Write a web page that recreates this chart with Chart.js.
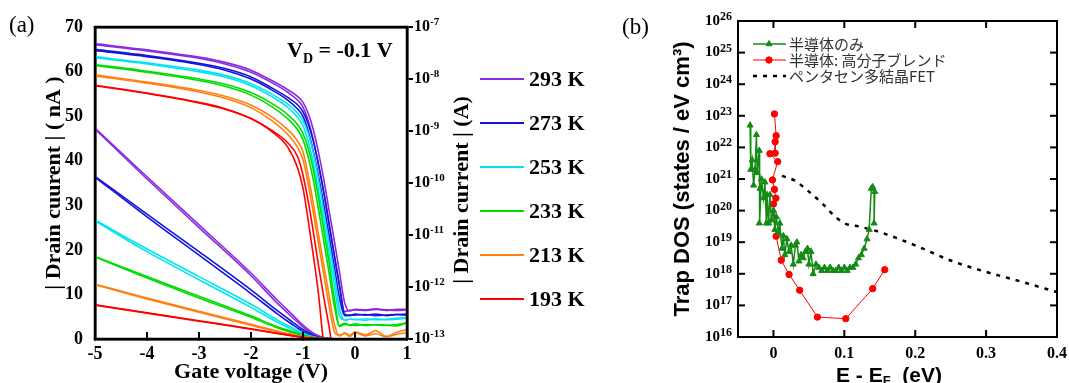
<!DOCTYPE html>
<html>
<head>
<meta charset="utf-8">
<script src="https://cdn.jsdelivr.net/npm/chart.js@4.4.0/dist/chart.umd.min.js"></script>
<style>
  body { margin: 0; background: #fff; }
  #wrap { position: relative; width: 1069px; height: 383px; overflow: hidden; }
  canvas { position: absolute; top: 0; }
  #chartA { left: 0; }
  #chartB { left: 600px; }
  #overA { left: 0; pointer-events: none; z-index: 5; }
  .mark { position: absolute; box-sizing: border-box; pointer-events: none; z-index: 6; }
</style>
</head>
<body>
<div id="wrap">
  <canvas id="chartA" width="600" height="383"></canvas>
  <canvas id="chartB" width="469" height="383"></canvas>
  <canvas id="overA" width="600" height="383"></canvas>
</div>
<script>
// ---------- panel (a): transfer curves, two sweeps per temperature ----------
const temps = ['293 K', '273 K', '253 K', '233 K', '213 K', '193 K'];
const tempColors = ['#8a2be2', '#1414dc', '#00e4f0', '#00dc00', '#ff8010', '#ff0000'];

// gate voltage grid for the linear (nA) curves
const vgLin = [-5, -4, -3, -2, -1.5, -1.2, -1.0, -0.8, -0.6, -0.4, -0.2, 0, 1];
const lin293  = [47.3, 36.4, 25.6, 14.8, 8.8, 5.4, 3.1, 1.3, 0.3, 0.05, 0, 0, 0];
const lin293r = [47.1, 35.9, 25.0, 14.2, 8.1, 4.8, 2.7, 1.0, 0.2, 0.03, 0, 0, 0];
const lin273  = [36.5, 28.0, 19.6, 11.0, 6.4, 3.8, 2.1, 0.8, 0.15, 0.02, 0, 0, 0];
const lin273r = [36.3, 27.4, 18.8, 10.2, 5.7, 3.2, 1.7, 0.6, 0.1, 0.01, 0, 0, 0];
const lin253  = [26.7, 20.2, 14.0, 7.8, 4.3, 2.5, 1.3, 0.5, 0.1, 0.01, 0, 0, 0];
const lin253r = [26.5, 19.6, 13.3, 7.1, 3.8, 2.1, 1.1, 0.4, 0.08, 0, 0, 0, 0];
const lin233  = [18.5, 14.0, 9.6, 5.2, 2.8, 1.6, 0.9, 0.35, 0.06, 0, 0, 0, 0];
const lin233r = [18.4, 13.7, 9.2, 4.9, 2.5, 1.4, 0.75, 0.3, 0.05, 0, 0, 0, 0];
const lin213  = [12.3, 9.2, 6.2, 3.3, 1.8, 1.0, 0.55, 0.2, 0.03, 0, 0, 0, 0];
const lin213r = [12.2, 9.0, 6.0, 3.1, 1.65, 0.9, 0.5, 0.18, 0.02, 0, 0, 0, 0];
const lin193  = [7.7, 5.9, 4.1, 2.3, 1.3, 0.75, 0.4, 0.15, 0.02, 0, 0, 0, 0];
const lin193r = [7.6, 5.8, 4.0, 2.2, 1.25, 0.7, 0.37, 0.13, 0.02, 0, 0, 0, 0];

// gate voltage grid for the log curves, values are log10(|Id| / A)
const vgLog = [-5, -4, -3, -2.5, -2, -1.6, -1.3, -1.1, -1.0, -0.9, -0.8, -0.7, -0.6, -0.5, -0.4, -0.3, -0.2, -0.1, 0, 0.2, 0.4, 0.6, 0.8, 1];
const log293  = [-7.32, -7.44, -7.58, -7.68, -7.83, -8.03, -8.20, -8.34, -8.45, -8.66, -8.98, -9.42, -9.93, -10.52, -11.10, -11.70, -12.30, -12.46, -12.43, -12.44, -12.42, -12.45, -12.43, -12.43];
const log293r = [-7.34, -7.46, -7.60, -7.71, -7.87, -8.07, -8.25, -8.41, -8.54, -8.80, -9.18, -9.66, -10.18, -10.78, -11.38, -11.96, -12.47, -12.45, -12.44, -12.45, -12.43, -12.44, -12.45, -12.44];
const log273  = [-7.43, -7.55, -7.70, -7.80, -7.96, -8.17, -8.35, -8.50, -8.63, -8.86, -9.20, -9.65, -10.18, -10.77, -11.37, -11.97, -12.52, -12.55, -12.52, -12.54, -12.52, -12.55, -12.53, -12.52];
const log273r = [-7.45, -7.57, -7.72, -7.83, -8.00, -8.21, -8.40, -8.58, -8.72, -9.00, -9.40, -9.88, -10.42, -11.00, -11.60, -12.20, -12.55, -12.54, -12.54, -12.53, -12.55, -12.54, -12.53, -12.54];
const log253  = [-7.57, -7.69, -7.83, -7.93, -8.09, -8.29, -8.48, -8.66, -8.80, -9.05, -9.42, -9.95, -10.55, -11.15, -11.75, -12.40, -12.64, -12.62, -12.63, -12.61, -12.63, -12.62, -12.60, -12.59];
const log253r = [-7.59, -7.71, -7.86, -7.96, -8.13, -8.34, -8.54, -8.74, -8.90, -9.20, -9.62, -10.15, -10.75, -11.35, -11.95, -12.55, -12.63, -12.62, -12.62, -12.64, -12.61, -12.63, -12.62, -12.60];
const log233  = [-7.72, -7.85, -8.00, -8.10, -8.26, -8.47, -8.68, -8.88, -9.05, -9.33, -9.75, -10.30, -10.90, -11.52, -12.20, -12.74, -12.70, -12.73, -12.71, -12.74, -12.72, -12.73, -12.75, -12.68];
const log233r = [-7.74, -7.87, -8.03, -8.14, -8.31, -8.53, -8.76, -8.98, -9.17, -9.50, -9.95, -10.52, -11.12, -11.72, -12.35, -12.76, -12.72, -12.73, -12.74, -12.72, -12.73, -12.74, -12.72, -12.70];
const log213  = [-7.92, -8.06, -8.22, -8.33, -8.50, -8.73, -8.97, -9.20, -9.40, -9.85, -10.40, -11.00, -11.58, -12.15, -12.70, -12.94, -12.88, -12.93, -12.86, -12.92, -12.84, -12.95, -12.87, -12.82];
const log213r = [-7.94, -8.08, -8.25, -8.37, -8.55, -8.80, -9.06, -9.32, -9.55, -10.02, -10.58, -11.18, -11.76, -12.35, -12.85, -12.93, -12.90, -12.95, -12.88, -12.94, -12.90, -12.96, -12.91, -12.88];
const log193  = [-8.12, -8.27, -8.45, -8.57, -8.76, -9.01, -9.30, -9.72, -10.10, -10.72, -11.40, -12.15, -13.10, -13.40, -13.40, -13.40, -13.40, -13.40, -13.40, -13.40, -13.40, -13.40, -13.40, -13.40];
const log193r = [-8.13, -8.28, -8.46, -8.58, -8.76, -8.99, -9.22, -9.50, -9.85, -10.35, -10.95, -11.60, -12.20, -12.75, -13.35, -13.40, -13.40, -13.40, -13.40, -13.40, -13.40, -13.40, -13.40, -13.40];

const rightExps = [-13, -12, -11, -10, -9, -8, -7];

// ---------- panel (b): trap DOS ----------
const legendB = ['半導体のみ', '半導体: 高分子ブレンド', 'ペンタセン多結晶FET'];
const greenE = [-0.033, -0.032, -0.030, -0.028, -0.026, -0.024, -0.023, -0.020, -0.019, -0.020, -0.017, -0.014, -0.012, -0.010, -0.009, -0.007, -0.005, -0.003, 0.000, 0.002, 0.004, 0.007, 0.009, 0.012, 0.014, 0.016, 0.019, 0.022, 0.025, 0.028, 0.031, 0.033, 0.036, 0.039, 0.042, 0.045, 0.048, 0.050, 0.053, 0.056, 0.060, 0.064, 0.068, 0.072, 0.076, 0.080, 0.084, 0.088, 0.092, 0.096, 0.100, 0.104, 0.108, 0.112, 0.116, 0.120, 0.124, 0.128, 0.132, 0.135, 0.138, 0.140, 0.143, 0.142];
const greenLog = [22.7, 21.3, 21.6, 20.8, 21.3, 22.4, 21.2, 21.9, 20.7, 19.6, 21.0, 20.4, 20.9, 19.6, 20.5, 19.6, 20.5, 19.7, 20.0, 19.4, 19.8, 19.3, 19.6, 18.8, 19.2, 18.6, 19.1, 18.7, 18.9, 18.3, 18.9, 19.0, 18.4, 18.6, 18.5, 18.7, 18.8, 18.3, 18.7, 18.0, 18.3, 18.2, 18.1, 18.2, 18.1, 18.2, 18.1, 18.1, 18.2, 18.1, 18.2, 18.1, 18.2, 18.2, 18.3, 18.5, 18.6, 18.8, 19.1, 19.4, 20.7, 20.75, 20.6, 19.6];
const redE = [0.0014, 0.0038, 0.0024, 0.0024, -0.005, 0.006, -0.0014, 0.0014, 0.0034, 0, 0.0038, 0.011, 0.022, 0.037, 0.062, 0.102, 0.14, 0.157];
const redLog = [23.06, 22.37, 22.18, 21.82, 21.8, 21.55, 20.97, 20.67, 20.39, 20.21, 19.19, 18.43, 17.98, 17.48, 16.63, 16.58, 17.53, 18.13];
const blackE = [0.012, 0.03, 0.05, 0.07, 0.085, 0.1, 0.12, 0.15, 0.2, 0.25, 0.3, 0.35, 0.4];
const blackLog = [21.1, 20.95, 20.6, 20.2, 19.85, 19.6, 19.5, 19.32, 18.9, 18.42, 18.06, 17.75, 17.42];
const dosExps = [16, 17, 18, 19, 20, 21, 22, 23, 24, 25, 26];
const xTicksB = [0, 0.1, 0.2, 0.3, 0.4];

const SERIF = '"Liberation Serif", "Times New Roman", serif';
const SANS = '"Liberation Sans", Arial, sans-serif';
const CJK = '"Noto Sans CJK JP", "Noto Sans", sans-serif';

// solid strokes drawn as filled rectangles
function hLine(ctx, x1, x2, y, w) { ctx.fillRect(Math.min(x1, x2), y - w / 2, Math.abs(x2 - x1), w); }
function vLine(ctx, x, y1, y2, w) { ctx.fillRect(x - w / 2, Math.min(y1, y2), w, Math.abs(y2 - y1)); }
function drawFrame(ctx, a, w) {
  ctx.fillStyle = '#000';
  hLine(ctx, a.left - w / 2, a.right + w / 2, a.top, w);
  hLine(ctx, a.left - w / 2, a.right + w / 2, a.bottom, w);
  vLine(ctx, a.left, a.top, a.bottom, w);
  vLine(ctx, a.right, a.top, a.bottom, w);
}
const axisBorder = {display: true, color: '#000', width: 2.5};

// ---------- chart (a) ----------
const linCurves = [[lin293, lin293r], [lin273, lin273r], [lin253, lin253r], [lin233, lin233r], [lin213, lin213r], [lin193, lin193r]];
const logCurves = [[log293, log293r], [log273, log273r], [log253, log253r], [log233, log233r], [log213, log213r], [log193, log193r]];

let dsA = [];
for (let i = temps.length - 1; i >= 0; i--) {
  linCurves[i].forEach(arr => dsA.push({
    data: vgLin.map((v, k) => ({x: v, y: arr[k]})),
    yAxisID: 'y',
    borderColor: tempColors[i],
    borderWidth: 1.6,
    pointRadius: 0,
    cubicInterpolationMode: 'monotone'
  }));
  logCurves[i].forEach(arr => dsA.push({
    data: vgLog.map((v, k) => ({x: v, y: Math.pow(10, arr[k])})),
    yAxisID: 'y2',
    borderColor: tempColors[i],
    borderWidth: 1.6,
    pointRadius: 0,
    cubicInterpolationMode: 'monotone'
  }));
}

const annotA = {
  id: 'annotA',
  afterDraw(chart) {
    const ctx = chart.ctx;
    const y2 = chart.scales.y2;
    const right = y2.left;
    ctx.save();
    ctx.fillStyle = '#000';

    // right axis labels 10^n
    ctx.textAlign = 'left';
    ctx.textBaseline = 'middle';
    rightExps.forEach(e => {
      const py = y2.getPixelForValue(Math.pow(10, e));
      ctx.font = 'bold 16px ' + SERIF;
      ctx.fillText('10', right + 7, py);
      const w = ctx.measureText('10').width;
      ctx.font = 'bold 11px ' + SERIF;
      ctx.fillText(String(e), right + 7 + w, py - 5);
    });

    // right axis title
    ctx.save();
    ctx.translate(462, 190);
    ctx.rotate(-Math.PI / 2);
    ctx.textAlign = 'center';
    ctx.font = 'bold 22px ' + SERIF;
    ctx.fillText('| Drain current | (A)', 0, 0);
    ctx.restore();

    // temperature legend
    temps.forEach((t, i) => {
      const ly = 79 + i * 44;
      ctx.fillStyle = tempColors[i];
      hLine(ctx, 480, 524, ly, 2);
      ctx.fillStyle = '#000';
      ctx.font = 'bold 22px ' + SERIF;
      ctx.fillText(t, 529, ly + 1);
    });

    // V_D label
    ctx.textBaseline = 'alphabetic';
    ctx.font = 'bold 22px ' + SERIF;
    let vx = 287;
    ctx.fillText('V', vx, 57);
    vx += ctx.measureText('V').width;
    ctx.font = 'bold 14px ' + SERIF;
    ctx.fillText('D', vx, 63);
    vx += ctx.measureText('D').width;
    ctx.font = 'bold 22px ' + SERIF;
    ctx.fillText(' = -0.1 V', vx, 57);

    ctx.font = '23px ' + SERIF;
    ctx.fillText('(a)', 9, 32);
    ctx.restore();
  }
};

const chartA = new Chart(document.getElementById('chartA'), {
  type: 'line',
  data: {datasets: dsA},
  options: {
    responsive: false,
    animation: false,
    devicePixelRatio: 1,
    layout: {padding: 0},
    plugins: {legend: {display: false}, tooltip: {enabled: false}},
    scales: {
      x: {
        type: 'linear', position: 'bottom', min: -5, max: 1,
        ticks: {stepSize: 1, padding: 11, color: '#000', font: {family: SERIF, weight: 'bold', size: 18}},
        // negative tick length puts the tick marks inside the plot
        grid: {display: true, drawOnChartArea: false, drawTicks: true, tickLength: -6, color: '#000', lineWidth: 2},
        border: axisBorder,
        title: {display: true, text: 'Gate voltage (V)', color: '#000', padding: {top: 0, bottom: 0},
                font: {family: SERIF, weight: 'bold', size: 22, lineHeight: 1}},
        afterFit: s => { s.height = 44; }
      },
      xTop: {
        type: 'linear', position: 'top', min: -5, max: 1,
        ticks: {display: false},
        grid: {display: false, drawTicks: false},
        border: axisBorder,
        afterFit: s => { s.height = 27; }
      },
      y: {
        type: 'linear', position: 'left', min: 0, max: 70,
        ticks: {stepSize: 10, padding: 12, color: '#000', font: {family: SERIF, weight: 'bold', size: 18}},
        grid: {display: false, drawTicks: false},
        border: axisBorder,
        title: {display: true, text: '| Drain cuurent | ( nA )', color: '#000', padding: {top: 43, bottom: 0},
                font: {family: SERIF, weight: 'bold', size: 22, lineHeight: 1}},
        afterFit: s => { s.width = 95; }
      },
      y2: {
        type: 'logarithmic', position: 'right', min: 1e-13, max: 1e-7,
        ticks: {display: false},
        grid: {display: true, drawOnChartArea: false, drawTicks: true, tickLength: 6, color: '#000', lineWidth: 2},
        border: axisBorder,
        afterBuildTicks: s => { s.ticks = rightExps.map(e => ({value: Math.pow(10, e)})); },
        afterFit: s => { s.width = 193; }
      }
    }
  },
  plugins: [annotA]
});

// plot frame and inner ticks of (a), placed from chart A's own area and x scale
function addMark(left, top, width, height, css) {
  const d = document.createElement('div');
  d.className = 'mark';
  d.style.left = left + 'px';
  d.style.top = top + 'px';
  d.style.width = width + 'px';
  d.style.height = height + 'px';
  Object.assign(d.style, css);
  document.getElementById('wrap').appendChild(d);
}
function drawFrameA() {
  const a = chartA.chartArea;
  const x = chartA.scales.x;
  const ctx = document.getElementById('overA').getContext('2d');
  drawFrame(ctx, a, 2.5);
  addMark(a.left - 1.25, a.top - 1.25, a.right - a.left + 2.5, a.bottom - a.top + 2.5, {border: '2.5px solid #000'});
  x.ticks.forEach(t => {
    const px = x.getPixelForValue(t.value);
    if (px > a.left + 2 && px < a.right - 2) {
      vLine(ctx, px, a.bottom - 6, a.bottom, 2);
      addMark(px - 1, a.bottom - 7, 2, 7, {background: '#000'});
    }
  });
}

// ---------- chart (b) ----------
const annotB = {
  id: 'annotB',
  afterDraw(chart) {
    const {ctx, chartArea: a, scales} = chart;
    ctx.save();
    ctx.setLineDash([]);
    drawFrame(ctx, a, 2);

    // inward ticks on all four sides
    xTicksB.forEach(v => {
      const px = scales.x.getPixelForValue(v);
      vLine(ctx, px, a.bottom - 7, a.bottom, 2);
      vLine(ctx, px, a.top, a.top + 7, 2);
    });
    dosExps.forEach(e => {
      const py = scales.y.getPixelForValue(Math.pow(10, e));
      hLine(ctx, a.left, a.left + 7, py, 2);
      hLine(ctx, a.right - 7, a.right, py, 2);
    });

    // y labels 10^n
    ctx.textBaseline = 'middle';
    dosExps.forEach(e => {
      const py = scales.y.getPixelForValue(Math.pow(10, e));
      ctx.font = 'bold 12px ' + SERIF;
      const we = ctx.measureText(String(e)).width;
      ctx.textAlign = 'left';
      ctx.fillText(String(e), a.left - 6 - we, py - 4);
      ctx.font = 'bold 15px ' + SERIF;
      ctx.textAlign = 'right';
      ctx.fillText('10', a.left - 6 - we, py);
    });

    // x title with subscript
    ctx.textAlign = 'left';
    ctx.textBaseline = 'alphabetic';
    let tx = 236;
    ctx.font = 'bold 21px ' + SANS;
    ctx.fillText('E - E', tx, 382);
    tx += ctx.measureText('E - E').width;
    ctx.font = 'bold 13px ' + SANS;
    ctx.fillText('F', tx, 385);
    tx += ctx.measureText('F').width;
    ctx.font = 'bold 21px ' + SANS;
    ctx.fillText('  (eV)', tx, 382);

    // legend
    const ds = chart.data.datasets;
    ctx.textBaseline = 'middle';
    ds.forEach((d, i) => {
      const ly = 44 + i * 16;
      ctx.strokeStyle = d.borderColor;
      ctx.lineWidth = d.borderWidth;
      ctx.setLineDash(d.borderDash || []);
      ctx.beginPath();
      ctx.moveTo(153, ly);
      ctx.lineTo(186, ly);
      ctx.stroke();
      ctx.setLineDash([]);
      if (d.pointRadius > 0) {
        ctx.fillStyle = d.backgroundColor;
        ctx.lineWidth = 1;
        Chart.helpers.drawPoint(ctx, {pointStyle: d.pointStyle, radius: d.pointRadius, rotation: 0, borderWidth: 1}, 169, ly);
      }
      ctx.fillStyle = '#333';
      ctx.font = '15px ' + CJK;
      ctx.fillText(d.label, 189, ly);
    });

    ctx.fillStyle = '#000';
    ctx.font = '23px ' + SERIF;
    ctx.fillText('(b)', 22, 28);
    ctx.restore();
  }
};

new Chart(document.getElementById('chartB'), {
  type: 'line',
  data: {
    datasets: [
      {
        label: legendB[0],
        data: greenE.map((e, k) => ({x: e, y: Math.pow(10, greenLog[k])})),
        borderColor: '#158a15', backgroundColor: '#158a15',
        borderWidth: 1.5, pointStyle: 'triangle', pointRadius: 3.5, pointBorderWidth: 1, tension: 0
      },
      {
        label: legendB[1],
        data: redE.map((e, k) => ({x: e, y: Math.pow(10, redLog[k])})),
        borderColor: '#ff0000', backgroundColor: '#ff0000',
        borderWidth: 1, pointStyle: 'circle', pointRadius: 3.2, pointBorderWidth: 1, tension: 0
      },
      {
        label: legendB[2],
        data: blackE.map((e, k) => ({x: e, y: Math.pow(10, blackLog[k])})),
        borderColor: '#000', backgroundColor: '#000',
        borderWidth: 2.5, borderDash: [4, 6], pointRadius: 0, cubicInterpolationMode: 'monotone'
      }
    ]
  },
  options: {
    responsive: false,
    animation: false,
    devicePixelRatio: 1,
    layout: {padding: {top: 21, right: 12, bottom: 0, left: 0}},
    plugins: {legend: {display: false}, tooltip: {enabled: false}},
    scales: {
      x: {
        type: 'linear', min: -0.05, max: 0.4,
        ticks: {padding: 1, color: '#000', font: {family: SERIF, weight: 'bold', size: 16, lineHeight: 1.95},
                callback: v => String(Math.round(v * 10) / 10)},
        afterBuildTicks: s => { s.ticks = xTicksB.map(v => ({value: v})); },
        grid: {display: false, drawTicks: false},
        border: {display: false},
        afterFit: s => { s.height = 46; }
      },
      y: {
        type: 'logarithmic', min: 1e16, max: 1e26,
        ticks: {display: false},
        afterBuildTicks: s => { s.ticks = dosExps.map(e => ({value: Math.pow(10, e)})); },
        grid: {display: false, drawTicks: false},
        border: {display: false},
        title: {display: true, text: 'Trap DOS (states / eV cm³)', color: '#000', padding: {top: 72, bottom: 0},
                font: {family: SANS, weight: 'bold', size: 22, lineHeight: 1}},
        afterFit: s => { s.width = 138; }
      }
    }
  },
  plugins: [annotB]
});

drawFrameA();
</script>
</body>
</html>
